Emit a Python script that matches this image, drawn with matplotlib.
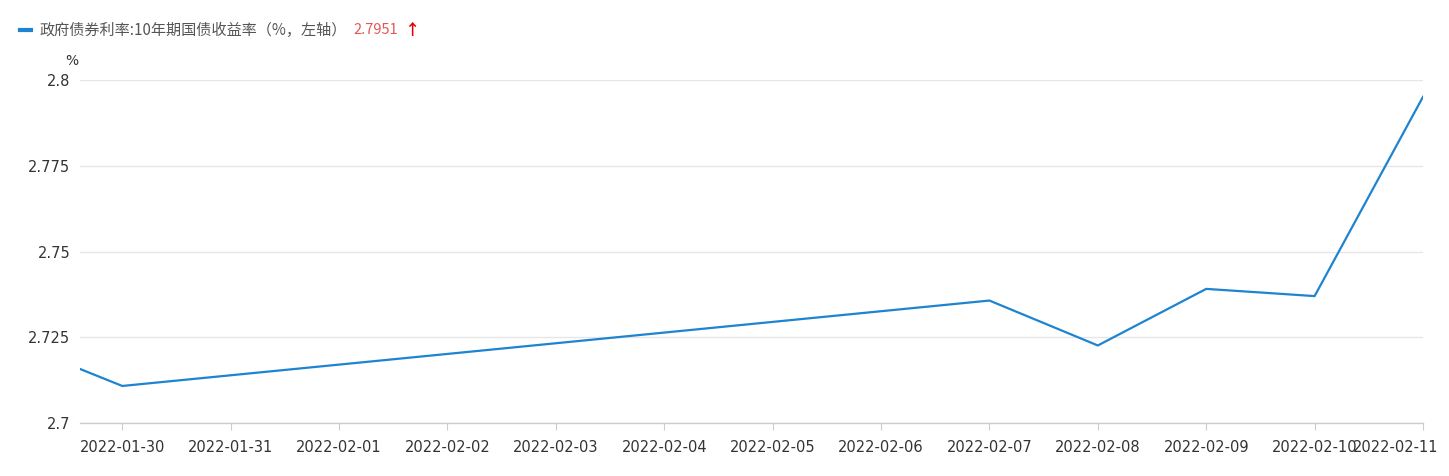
import matplotlib
matplotlib.use('Agg')
import matplotlib.pyplot as plt
import matplotlib.transforms as mtransforms
from datetime import datetime, timedelta

plt.rcParams['font.family'] = ['Noto Sans CJK SC', 'DejaVu Sans']

# 数据: 10年期国债收益率(%)
dates = ['2022-01-29', '2022-01-30', '2022-02-07', '2022-02-08',
         '2022-02-09', '2022-02-10', '2022-02-11']
values = [2.7235, 2.7108, 2.7357, 2.7226, 2.7391, 2.7370, 2.7951]
tick_days = ['2022-01-30', '2022-01-31', '2022-02-01', '2022-02-02', '2022-02-03',
             '2022-02-04', '2022-02-05', '2022-02-06', '2022-02-07', '2022-02-08',
             '2022-02-09', '2022-02-10', '2022-02-11']
y_ticks = [2.7, 2.725, 2.75, 2.775, 2.8]
y_labels = ['2.7', '2.725', '2.75', '2.775', '2.8']
legend_name = '政府债券利率:10年期国债收益率（%，左轴）'
last_value = '2.7951'

x = [datetime.strptime(d, '%Y-%m-%d') for d in dates]
xt = [datetime.strptime(d, '%Y-%m-%d') for d in tick_days]

fig = plt.figure(figsize=(14.49, 4.76), dpi=100)
ax = fig.add_axes([80/1449, 1-423/476, (1423-80)/1449, (423-80)/476])

ax.plot(x, values, color='#1e84d0', lw=1.6, clip_on=True)

ax.set_xlim(xt[0] - timedelta(days=0.39), xt[-1])
ax.set_ylim(2.7, 2.8)
ax.set_xticks(xt)
ax.set_xticklabels(tick_days, family='DejaVu Sans')
ax.set_yticks(y_ticks)
ax.set_yticklabels(y_labels, family='DejaVu Sans')

for s in ['top', 'right', 'left']:
    ax.spines[s].set_visible(False)
ax.spines['bottom'].set_color('#cccccc')
ax.spines['bottom'].set_linewidth(1)
ax.grid(axis='y', color='#e6e6e6', lw=1)
ax.set_axisbelow(True)
ax.tick_params(axis='y', length=0, pad=7, labelsize=10.5, labelcolor='#333333')
ax.tick_params(axis='x', length=5, color='#cccccc', pad=7, labelsize=10.5, labelcolor='#333333')

# 最后一个日期标签向左偏移
lbl = ax.get_xticklabels()[-1]
lbl.set_transform(lbl.get_transform() + mtransforms.ScaledTranslation(-0.27, 0, fig.dpi_scale_trans))

fig.text(72/1449, 1-61/476, '%', fontsize=10, color='#333333', ha='center', va='center',
         family='DejaVu Sans')

# 图例
fig.add_artist(plt.Line2D([20/1449, 31/1449], [1-30/476, 1-30/476], color='#1e84d0', lw=3))
fig.text(40/1449, 1-30/476, legend_name, fontsize=10.9, color='#555555', va='center')
fig.text(353/1449, 1-30/476, last_value, fontsize=10.5, color='#e65555', va='center')
fig.text(413/1449, 1-30/476, '↑', fontsize=11, color='#e60000', va='center', ha='center',
         fontweight='bold')

fig.savefig('out.png', dpi=100)
